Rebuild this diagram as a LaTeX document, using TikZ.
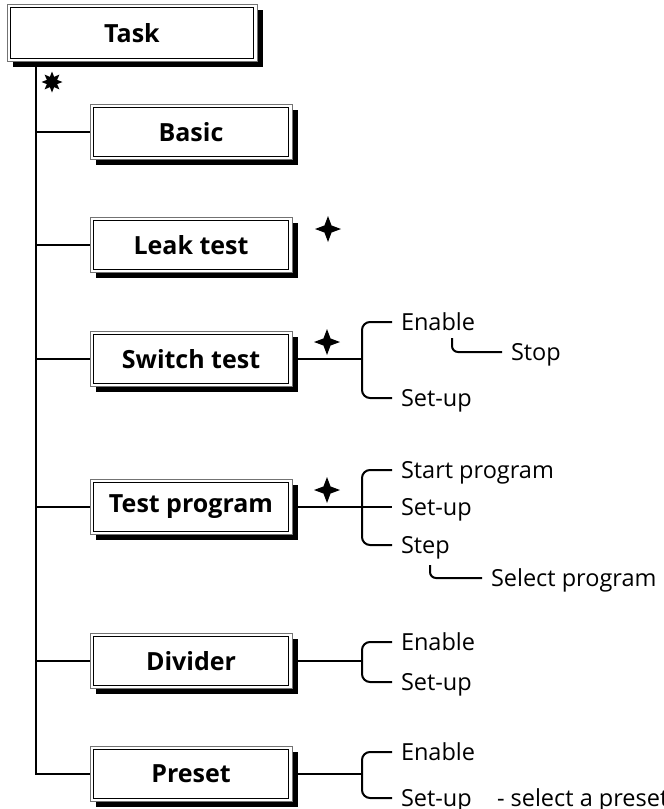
\documentclass[tikz,border=0pt]{standalone}
\usepackage{fontspec}
\setmainfont{Open Sans}
\usetikzlibrary{shapes.geometric}
\tikzset{
  menubox/.style={fill=white, draw=black!55, line width=0.8pt,
    minimum width=202pt, minimum height=55pt, inner sep=0pt,
    font=\fontsize{25}{28}\selectfont\bfseries,
    preaction={fill=black, transform canvas={xshift=6pt, yshift=-5pt}},
    path picture={\draw[black, line width=0.8pt]
      ([shift={(3.2pt,3.2pt)}]path picture bounding box.south west) rectangle
      ([shift={(-3.2pt,-3.2pt)}]path picture bounding box.north east);}},
  branch/.style={anchor=west, inner xsep=8pt, inner ysep=0pt, text height=17pt,
    text depth=0pt, font=\fontsize{23.5}{26}\selectfont},
  burst/.style={star, star points=8, star point ratio=1.9, fill=black, draw=none,
    minimum size=21pt, inner sep=0pt},
  spark/.style={star, star points=4, star point ratio=2.6, fill=black, draw=none,
    minimum size=26pt, inner sep=0pt},
}

\begin{document}
\begin{tikzpicture}[x=1pt, y=-1pt, line width=2pt]
  \useasboundingbox (0,0) rectangle (664,809);
  \coordinate (spine) at (36,0);
  % boxes
  \node[menubox, minimum width=250pt, minimum height=57pt] (task) at (132,33) {Task};
  \node[menubox] (basic)   at (191,132) {Basic};
  \node[menubox] (leak)    at (191,245) {Leak test};
  \node[menubox] (switch)  at (191,359) {Switch test};
  \node[menubox] (program) at (191,507) {Test program};
  \node[menubox] (divider) at (191,661) {Divider};
  \node[menubox] (preset)  at (191,774) {Preset};
  % marks
  \node[burst] (taskstar) at (52,82) {};
  \node[spark] (leakspark)    at (328,229) {};
  \node[spark] (switchspark)  at (327,342) {};
  \node[spark] (programspark) at (327,490) {};
  % sub items
  \node[branch] (swen)    at (392,322) {Enable};
  \node[branch] (swset)   at (392,398) {Set-up};
  \node[branch] (swstop)  at (502,352) {Stop};
  \node[branch] (tpstart) at (392,470) {Start program};
  \node[branch] (tpset)   at (392,507) {Set-up};
  \node[branch] (tpstep)  at (392,545) {Step};
  \node[branch] (tpsel)   at (482,578) {Select program};
  \node[branch] (dven)    at (392,642) {Enable};
  \node[branch] (dvset)   at (392,682) {Set-up};
  \node[branch] (pren)    at (392,752) {Enable};
  \node[branch] (prset)   at (392,798) {Set-up};
  \node[branch, inner xsep=0pt] (prnote) at (496,798) {- select a preset};
  % forks
  \coordinate (swfork) at (362,359);
  \coordinate (tpfork) at (362,507);
  \coordinate (dvfork) at (362,661);
  \coordinate (prfork) at (362,774);
  \coordinate (stopfrom) at (452,338);
  \coordinate (selfrom)  at (430,565);
  % tree
  \draw (spine |- task.south) |- (preset.west);
  \foreach \b in {basic,leak,switch,program,divider}
    \draw (spine |- \b) -- (\b.west);
  \foreach \a/\b in {switch/swfork,program/tpfork,divider/dvfork,preset/prfork}
    \draw ([xshift=6pt]\a.east) -- (\b);
  \foreach \a/\b in {swfork/swen,swfork/swset,tpfork/tpstart,tpfork/tpstep,dvfork/dven,dvfork/dvset,prfork/pren,prfork/prset}
    \draw[rounded corners=8pt] (\a) |- (\b.west);
  \draw (tpfork) -- (tpset.west);
  \draw[rounded corners=6pt] (stopfrom) |- (swstop.west);
  \draw[rounded corners=6pt] (selfrom) |- (tpsel.west);
\end{tikzpicture}
\end{document}
